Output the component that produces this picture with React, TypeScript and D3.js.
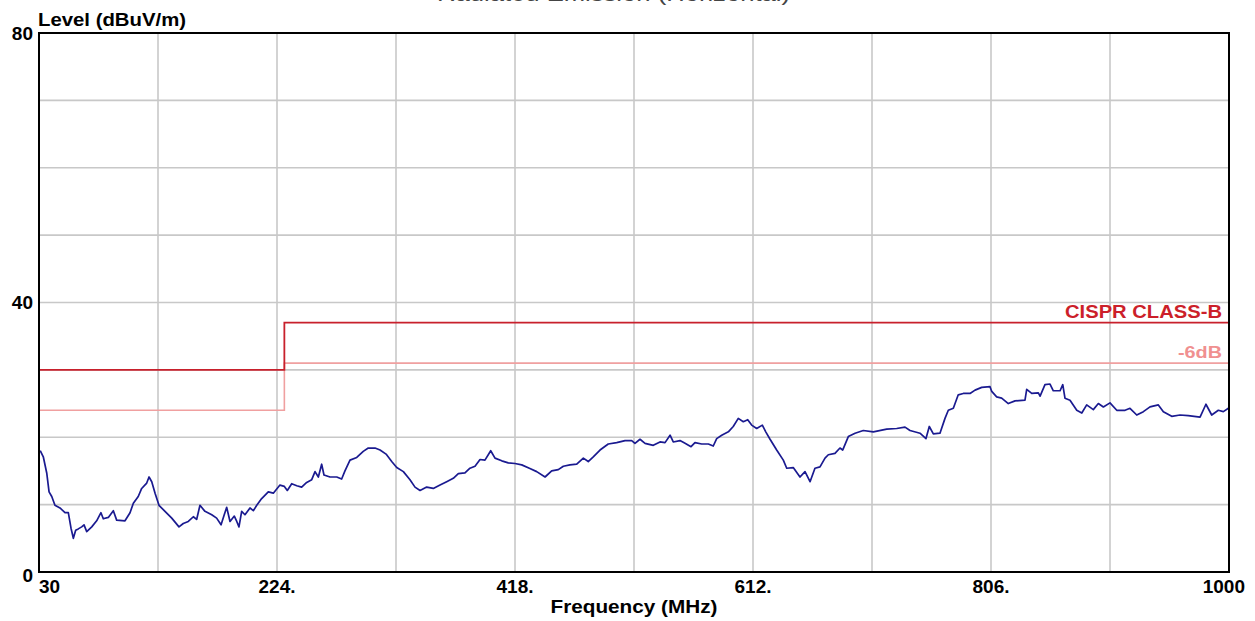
import React from "react";
import * as d3 from "d3";

// ---------- data ----------
const traceFreq: number[] = [
  31, 33.5, 36.3, 38.2, 40.4, 43, 47.1, 51.2, 53.9, 56.1, 58, 59.9, 62, 64.8, 66.7, 68.9, 73, 77, 80.5, 82.4,
  86.5, 90.6, 93.3, 100.1, 104.2, 106.9, 110.9, 113.7, 117.8, 119.7, 121.9, 124.6, 127.8, 132.7, 138.2, 144.1,
  147.6, 151.7, 155.8, 158.5, 161.2, 165.3, 170.8, 174.8, 178.4, 181, 183, 185.7, 189.2, 191.2, 193, 195.2,
  197.9, 202, 204.7, 207.5, 211.5, 216.9, 221, 226.4, 230, 232.4, 236, 240.1, 244.1, 248.2, 252.3, 255, 257.7,
  260.4, 262.3, 267.2, 272.7, 276.7, 279.4, 283.5, 289, 294.3, 298.4, 303.9, 308, 312.9, 317.5, 321.6, 327,
  332.4, 336.5, 340.6, 346, 351.4, 356.9, 362.3, 367.7, 371.8, 377.2, 381.3, 385.4, 389.5, 393.5, 398.2, 401.7,
  407.2, 412.5, 418, 423.5, 429.7, 435.7, 442.5, 447.9, 453.3, 457.4, 462.8, 468.3, 473.7, 477.7, 481.8, 487.3,
  494, 500.9, 507.7, 513.1, 515.8, 519.9, 524, 530.7, 536.2, 540.3, 544.4, 547, 552.5, 556.6, 561.5, 564.7,
  570.2, 575.6, 579.6, 582.4, 586.5, 591.9, 595.9, 600, 604.1, 607.7, 610.9, 615, 619.6, 622.4, 625.9, 631.3,
  636.7, 639.5, 644.8, 650.3, 654.4, 658.5, 662.5, 666.6, 670.7, 673.4, 678.8, 682.9, 685.1, 689.7, 695.2,
  701.9, 710.1, 721, 729.1, 735.9, 740, 748.1, 753, 755.7, 759, 764.4, 768.5, 771.2, 775.3, 779.3, 783.4,
  788.9, 793, 798.4, 805.2, 806.6, 810.6, 814.7, 820.1, 825.6, 833.7, 835.1, 839.2, 844.6, 846, 850, 854.1,
  856.8, 862.3, 864.5, 866.3, 870.4, 875.9, 880, 884, 889.4, 893.5, 897.6, 903, 908.5, 915.3, 919.3, 924.8,
  930.2, 935.6, 942.4, 946.5, 953.3, 960.1, 966.8, 976.4, 981.2, 985.9, 991.3, 995.4, 999.5,
];

const traceLevel: number[] = [
  18.0, 17.1, 14.7, 11.9, 11.2, 9.9, 9.5, 8.8, 8.8, 6.5, 5.0, 6.2, 6.4, 6.7, 7.0, 6.0, 6.7, 7.6, 8.8, 7.9,
  8.1, 9.1, 7.7, 7.6, 8.8, 10.2, 11.2, 12.4, 13.2, 14.1, 13.4, 11.7, 9.9, 9.0, 8.0, 6.7,
  7.2, 7.5, 8.2, 7.8, 9.9, 9.0, 8.5, 8.0, 7.0, 8.5, 9.6, 7.5, 8.3, 7.5, 6.7, 9.0,
  8.5, 9.5, 9.1, 9.9, 10.9, 11.9, 11.7, 12.9, 12.7, 12.1, 13.1, 12.8, 12.6, 13.3, 13.7, 14.9, 14.1,
  16.0, 14.4, 14.1, 14.1, 13.8, 15.0, 16.6, 17.0, 17.9, 18.4, 18.4, 18.1, 17.5, 16.4, 15.5, 14.9,
  13.7, 12.6, 12.1, 12.6, 12.4, 12.9, 13.4, 13.9, 14.6, 14.7, 15.4, 15.7, 16.7, 16.6, 18.0, 16.9,
  16.5, 16.2, 16.1, 15.9, 15.4, 14.9, 14.1, 15.0, 15.2, 15.7, 15.9, 16.0, 16.9, 16.4, 17.1, 18.1,
  19.0, 19.2, 19.5, 19.5, 19.1, 19.7, 19.1, 18.8, 19.3, 19.2, 20.3, 19.3, 19.5, 19.1, 18.6, 19.2,
  19.0, 19.0, 18.7, 19.8, 20.3, 20.8, 21.6, 22.8, 22.3, 22.6, 21.8, 21.3, 21.8, 20.8, 19.7, 18.1,
  16.6, 15.4, 15.5, 14.1, 14.9, 13.4, 15.4, 15.6, 16.9, 17.4, 17.6, 18.4, 18.1, 20.1, 20.6,
  21.0, 20.8, 21.2, 21.3, 21.5, 21.0, 20.6, 19.8, 21.6, 20.5, 20.6, 22.8, 24.0, 24.3, 26.3, 26.5,
  26.5, 27.0, 27.4, 27.5, 26.8, 26.0, 25.8, 25.0, 25.4, 25.5, 27.1, 26.5, 26.6, 26.1, 27.8, 27.9,
  26.9, 26.9, 27.8, 25.8, 25.5, 24.0, 23.6, 24.8, 24.1, 25.0, 24.5, 25.1, 24.0, 24.0, 24.3, 23.3,
  23.8, 24.5, 24.8, 23.8, 23.1, 23.3, 23.2, 23.0, 24.9, 23.3, 24.0, 23.8, 24.3,
];

const limitFreq: number[] = [30, 230, 1000];
const limitLevel: number[] = [30, 37, 37];
const marginLevel: number[] = [24, 31, 31];

const xGridValues: number[] = [30, 127, 224, 321, 418, 515, 612, 709, 806, 903, 1000];
const yGridValues: number[] = [0, 10, 20, 30, 40, 50, 60, 70, 80];
const xTickValues: number[] = [30, 224, 418, 612, 806, 1000];
const xTickLabels: string[] = ["30", "224.", "418.", "612.", "806.", "1000"];
const yTickValues: number[] = [0, 40, 80];
const yTickLabels: string[] = ["0", "40", "80"];

const titleText = "Radiated Emission (Horizontal)";
const yAxisTitle = "Level (dBuV/m)";
const xAxisTitle = "Frequency (MHz)";
const limitName = "CISPR CLASS-B";
const marginName = "-6dB";

// ---------- layout ----------
const W = 1255;
const H = 621;
const L = 39;
const R = 1229;
const T = 33;
const B = 572;
const FONT = "'Liberation Sans', Arial, sans-serif";

export default function App() {
  const x = d3.scaleLinear().domain([30, 1000]).range([L, R]);
  const y = d3.scaleLinear().domain([0, 80]).range([B, T]);

  const trace = traceFreq.map((f, i) => [f, traceLevel[i]] as [number, number]);
  const lineGen = d3
    .line<[number, number]>()
    .x((d) => x(d[0]))
    .y((d) => y(d[1]));
  const stepGen = d3
    .line<[number, number]>()
    .x((d) => x(d[0]))
    .y((d) => y(d[1]))
    .curve(d3.curveStepAfter);

  const limitPts = limitFreq.map((f, i) => [f, limitLevel[i]] as [number, number]);
  const marginPts = limitFreq.map((f, i) => [f, marginLevel[i]] as [number, number]);

  return (
    <svg
      width={W}
      height={H}
      style={{ position: "absolute", left: 0, top: 0, display: "block", background: "#fff" }}
      fontFamily={FONT}
    >
      <rect x={0} y={0} width={W} height={H} fill="#fff" />
      {/* title (clipped at top, as in the reference) */}
      <text x={437} y={1} fontSize={20} fill="#444" textLength={353} lengthAdjust="spacingAndGlyphs">
        {titleText}
      </text>

      {/* grid */}
      {xGridValues.map((v) => (
        <line key={"gx" + v} x1={x(v)} x2={x(v)} y1={T} y2={B} stroke="#c8c8c8" strokeWidth={1.6} />
      ))}
      {yGridValues.map((v) => (
        <line key={"gy" + v} x1={L} x2={R} y1={y(v)} y2={y(v)} stroke="#c8c8c8" strokeWidth={1.6} />
      ))}

      {/* limit lines */}
      <path d={stepGen(marginPts) || ""} fill="none" stroke="#f0a0a0" strokeWidth={1.6} />
      <path d={stepGen(limitPts) || ""} fill="none" stroke="#c8202c" strokeWidth={1.8} />

      {/* trace */}
      <path d={lineGen(trace) || ""} fill="none" stroke="#1a1a90" strokeWidth={1.7} strokeLinejoin="round" />

      {/* frame */}
      <rect x={L} y={T} width={R - L} height={B - T} fill="none" stroke="#000" strokeWidth={2} />

      {/* limit labels */}
      <text
        x={R - 7}
        y={y(limitLevel[limitLevel.length - 1]) - 5}
        textAnchor="end"
        fontSize={18}
        fontWeight="bold"
        fill="#cc1f2a"
        textLength={157}
        lengthAdjust="spacingAndGlyphs"
      >
        {limitName}
      </text>
      <text
        x={R - 7}
        y={y(marginLevel[marginLevel.length - 1]) - 5}
        textAnchor="end"
        fontSize={17}
        fontWeight="bold"
        fill="#f09090"
        textLength={44}
        lengthAdjust="spacingAndGlyphs"
      >
        {marginName}
      </text>

      {/* y tick labels */}
      {yTickValues.map((v, i) => (
        <text
          key={"yt" + v}
          x={L - 6}
          y={y(v) + (i === 0 ? 10 : 6.5)}
          textAnchor="end"
          fontSize={19}
          fontWeight="bold"
          fill="#000"
        >
          {yTickLabels[i]}
        </text>
      ))}

      {/* x tick labels */}
      {xTickValues.map((v, i) => {
        const first = i === 0;
        const last = i === xTickValues.length - 1;
        return (
          <text
            key={"xt" + v}
            x={last ? x(v) + 16 : x(v)}
            y={B + 21}
            textAnchor={first ? "start" : last ? "end" : "middle"}
            fontSize={19}
            fontWeight="bold"
            fill="#000"
          >
            {xTickLabels[i]}
          </text>
        );
      })}

      {/* axis titles */}
      <text x={L - 1} y={26} fontSize={18} fontWeight="bold" fill="#000" textLength={148} lengthAdjust="spacingAndGlyphs">
        {yAxisTitle}
      </text>
      <text
        x={(L + R) / 2}
        y={613}
        textAnchor="middle"
        fontSize={18}
        fontWeight="bold"
        fill="#000"
        textLength={167}
        lengthAdjust="spacingAndGlyphs"
      >
        {xAxisTitle}
      </text>
    </svg>
  );
}
